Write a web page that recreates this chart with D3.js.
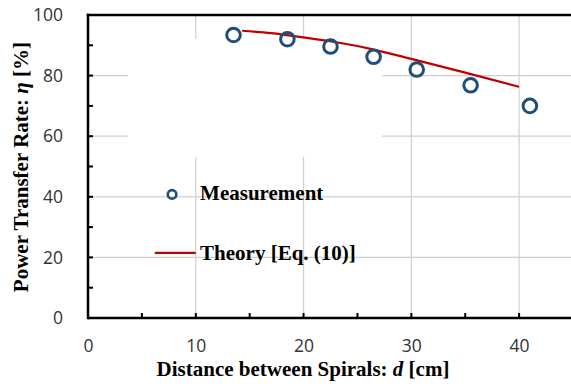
<!DOCTYPE html>
<html>
<head>
<meta charset="utf-8">
<script src="https://cdn.jsdelivr.net/npm/d3@7"></script>
<style>
  body { margin: 0; background: #fff; }
  svg { display: block; }
</style>
</head>
<body>
<svg id="chart"></svg>
<script>
// data
const measDist = [13.5, 18.5, 22.5, 26.5, 30.5, 35.5, 41.0];
const measRate = [93.4, 92.0, 89.6, 86.2, 82.0, 76.8, 70.0];
const theoryDist = [14.3, 17, 20, 23, 26, 30, 35, 40];
const theoryRate = [94.8, 94.0, 92.6, 91.0, 89.0, 85.5, 81.0, 76.3];
const xTicks = [0, 10, 20, 30, 40];
const yTicks = [0, 20, 40, 60, 80, 100];
const xMinor = [5, 15, 25, 35];
const yMinor = [10, 30, 50, 70, 90];
const legendNames = ['Measurement', 'Theory [Eq. (10)]'];

const W = 571, H = 392;
const margin = {top: 15, right: -2, bottom: 74, left: 88};
const innerW = W - margin.left - margin.right;
const innerH = H - margin.top - margin.bottom;

const svg = d3.select('#chart').attr('width', W).attr('height', H);
const chart = svg.append('g').attr('transform', `translate(${margin.left}, ${margin.top})`);

const x = d3.scaleLinear().domain([0, 45]).range([0, innerW]);
const y = d3.scaleLinear().domain([0, 100]).range([innerH, 0]);

const blue = '#1f4e79';
const red = '#c00000';

// grid
chart.append('g').selectAll('line').data(xTicks.filter(d => d > 0))
  .join('line')
  .attr('x1', d => x(d)).attr('x2', d => x(d))
  .attr('y1', 0).attr('y2', innerH)
  .attr('stroke', '#d0d0d0').attr('stroke-width', 1.2);
chart.append('g').selectAll('line').data(yTicks.filter(d => d > 0 && d < 100))
  .join('line')
  .attr('y1', d => y(d)).attr('y2', d => y(d))
  .attr('x1', 0).attr('x2', innerW)
  .attr('stroke', '#d0d0d0').attr('stroke-width', 1.2);

// legend box covers the grid
const lg = chart.append('g');
lg.append('rect')
  .attr('x', x(3.73)).attr('y', y(92.1))
  .attr('width', x(27.3) - x(3.73)).attr('height', y(53.2) - y(92.1))
  .attr('fill', '#fff');

// theory line
const line = d3.line()
  .x((d, i) => x(theoryDist[i]))
  .y(d => y(d))
  .curve(d3.curveMonotoneX);
chart.append('path')
  .datum(theoryRate)
  .attr('d', line)
  .attr('fill', 'none')
  .attr('stroke', red)
  .attr('stroke-width', 2.2);

// measurement points
chart.append('g').selectAll('circle').data(measRate)
  .join('circle')
  .attr('cx', (d, i) => x(measDist[i]))
  .attr('cy', d => y(d))
  .attr('r', 6.8)
  .attr('fill', 'none')
  .attr('stroke', blue)
  .attr('stroke-width', 3);

// axes
const tickFont = '"Open Sans", sans-serif';
const xAxis = d3.axisBottom(x).tickValues(xTicks).tickSize(0).tickPadding(22);
const yAxis = d3.axisLeft(y).tickValues(yTicks).tickSize(0).tickPadding(25);
const xg = chart.append('g').attr('transform', `translate(0, ${innerH})`).call(xAxis);
const yg = chart.append('g').call(yAxis);
[xg, yg].forEach(g => {
  g.select('.domain').remove();
  g.selectAll('text')
    .style('font-family', tickFont)
    .style('font-size', '17.5px')
    .attr('fill', '#333');
});

// ticks pointing inside
chart.append('g').selectAll('line').data(xMinor.concat(xTicks.slice(1)))
  .join('line')
  .attr('x1', d => x(d)).attr('x2', d => x(d))
  .attr('y1', innerH).attr('y2', innerH - 5)
  .attr('stroke', '#000').attr('stroke-width', 2);
chart.append('g').selectAll('line').data(yMinor.concat(yTicks.slice(1)))
  .join('line')
  .attr('y1', d => y(d)).attr('y2', d => y(d))
  .attr('x1', 0).attr('x2', 5)
  .attr('stroke', '#000').attr('stroke-width', 2);

// frame
chart.append('line').attr('x1', 0).attr('x2', innerW + 5).attr('y1', innerH).attr('y2', innerH)
  .attr('stroke', '#000').attr('stroke-width', 2.5);
chart.append('line').attr('x1', 0).attr('x2', 0).attr('y1', -1.2).attr('y2', innerH + 1.2)
  .attr('stroke', '#000').attr('stroke-width', 2.5);
chart.append('line').attr('x1', -1.2).attr('x2', innerW + 5).attr('y1', 0).attr('y2', 0)
  .attr('stroke', '#000').attr('stroke-width', 2.5);

// legend entries
const serif = '"Liberation Serif", "Times New Roman", serif';
lg.append('circle')
  .attr('cx', x(7.8)).attr('cy', y(40.8))
  .attr('r', 4.3)
  .attr('fill', 'none').attr('stroke', blue).attr('stroke-width', 2.6);
lg.append('line')
  .attr('x1', x(6.2)).attr('x2', x(10))
  .attr('y1', y(21.5)).attr('y2', y(21.5))
  .attr('stroke', red).attr('stroke-width', 2.2);
lg.selectAll('text.leg').data(legendNames)
  .join('text')
  .attr('class', 'leg')
  .attr('x', x(10.4))
  .attr('y', (d, i) => i === 0 ? y(38.8) : y(19))
  .style('font-family', serif)
  .style('font-size', '21px')
  .style('font-weight', 'bold')
  .attr('fill', '#000')
  .text(d => d);

// axis titles
const xt = svg.append('text')
  .attr('x', margin.left + x(19.95))
  .attr('y', 376)
  .attr('text-anchor', 'middle')
  .style('font-family', serif)
  .style('font-size', '21px')
  .style('font-weight', 'bold');
xt.append('tspan').text('Distance between Spirals: ');
xt.append('tspan').style('font-style', 'italic').text('d');
xt.append('tspan').text(' [cm]');

const yt = svg.append('text')
  .attr('transform', `translate(28, 167) rotate(-90)`)
  .attr('text-anchor', 'middle')
  .style('font-family', serif)
  .style('font-size', '21px')
  .style('font-weight', 'bold');
yt.append('tspan').text('Power Transfer Rate: ');
yt.append('tspan').style('font-style', 'italic').text('η');
yt.append('tspan').text(' [%]');
</script>
</body>
</html>
